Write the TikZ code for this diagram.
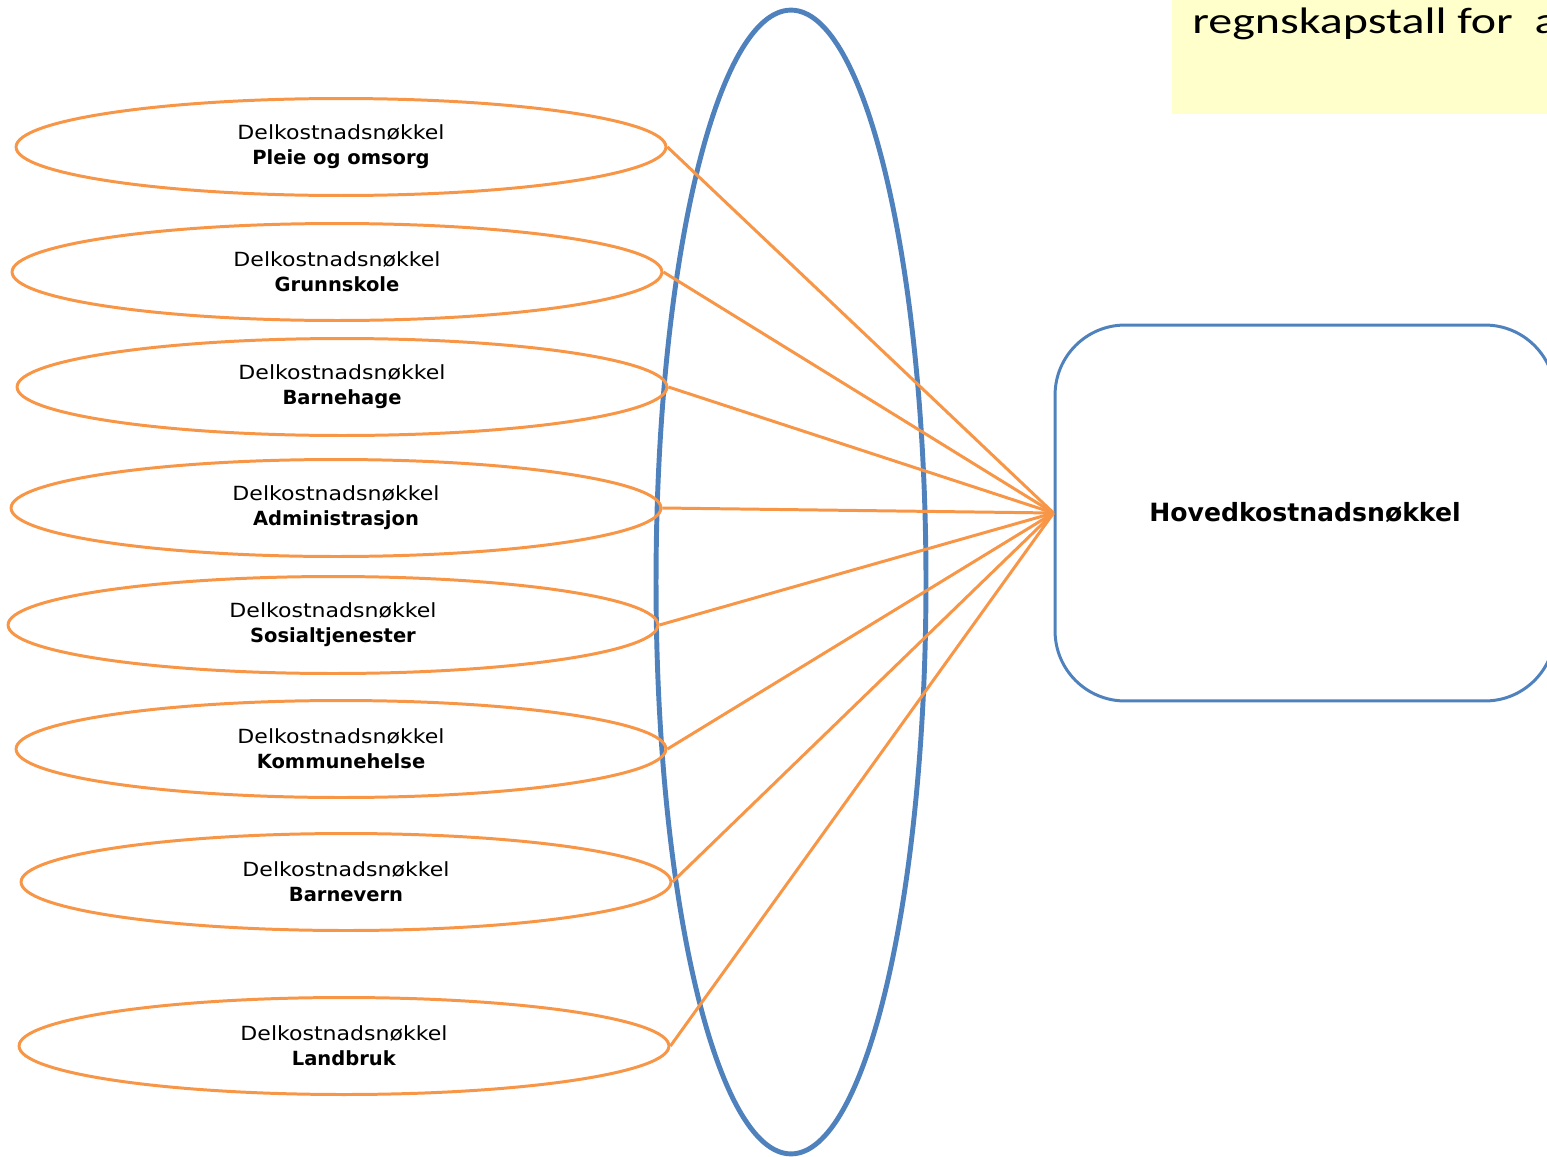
\documentclass[tikz,border=0pt]{standalone}
\usepackage{fontspec}
\setmainfont{DejaVu Sans}
\newfontfamily\delfont[FakeStretch=1.13]{DejaVu Sans}
\newfontfamily\notefont[FakeStretch=1.3]{Carlito}
\usetikzlibrary{shapes.geometric}

\definecolor{keyorange}{HTML}{F79646}
\definecolor{keyblue}{HTML}{4F81BD}
\definecolor{notefill}{HTML}{FFFFCC}

\tikzset{
  delkey/.style={ellipse,draw=keyorange,line width=1.7pt,minimum width=13cm,
    minimum height=1.94cm,inner sep=0pt,align=center,
    font=\fontsize{11.1}{14.2}\selectfont},
  link/.style={draw=keyorange,line width=1.7pt},
}
\newcommand{\delname}[1]{{\delfont Delkostnadsnøkkel}\\\textbf{#1}}

\begin{document}
\begin{tikzpicture}[x=0.02cm,y=-0.02cm]
  % Boundary
  \useasboundingbox (0,0) rectangle (1547,1156);
  \clip (0,0) rectangle (1547,1156);
  % Note box
  \fill[notefill] (1172,-10) rectangle (1560,114);
  \node[anchor=base west,inner sep=0pt,font=\notefont\fontsize{21}{25}\selectfont] (note) at (1192,33) {regnskapstall for\ \ a};
  % Grouping ellipse
  \node[ellipse,draw=keyblue,line width=2.8pt,minimum width=5.4cm,minimum height=22.88cm] (group) at (791,582) {};
  % Sub keys
  \node[delkey] (pleie) at (341,147) {\delname{Pleie og omsorg}};
  \node[delkey] (grunn) at (337,272) {\delname{Grunnskole}};
  \node[delkey] (barneh) at (342,387) {\delname{Barnehage}};
  \node[delkey] (admin) at (336,508) {\delname{Administrasjon}};
  \node[delkey] (sosial) at (333,625) {\delname{Sosialtjenester}};
  \node[delkey] (helse) at (341,749) {\delname{Kommunehelse}};
  \node[delkey] (barnev) at (346,882) {\delname{Barnevern}};
  \node[delkey] (land) at (344,1046) {\delname{Landbruk}};
  % Main key
  \node[draw=keyblue,line width=1.7pt,rounded corners=1.4cm,minimum width=10cm,minimum height=7.52cm,
    font=\bfseries\fontsize{14.3}{17}\selectfont] (hoved) at (1305,513) {Hovedkostnadsnøkkel};
  % Links
  \draw[link] (pleie.east) -- (hoved.west);
  \draw[link] (grunn.east) -- (hoved.west);
  \draw[link] (barneh.east) -- (hoved.west);
  \draw[link] (admin.east) -- (hoved.west);
  \draw[link] (sosial.east) -- (hoved.west);
  \draw[link] (helse.east) -- (hoved.west);
  \draw[link] (barnev.east) -- (hoved.west);
  \draw[link] (land.east) -- (hoved.west);
\end{tikzpicture}
\end{document}
